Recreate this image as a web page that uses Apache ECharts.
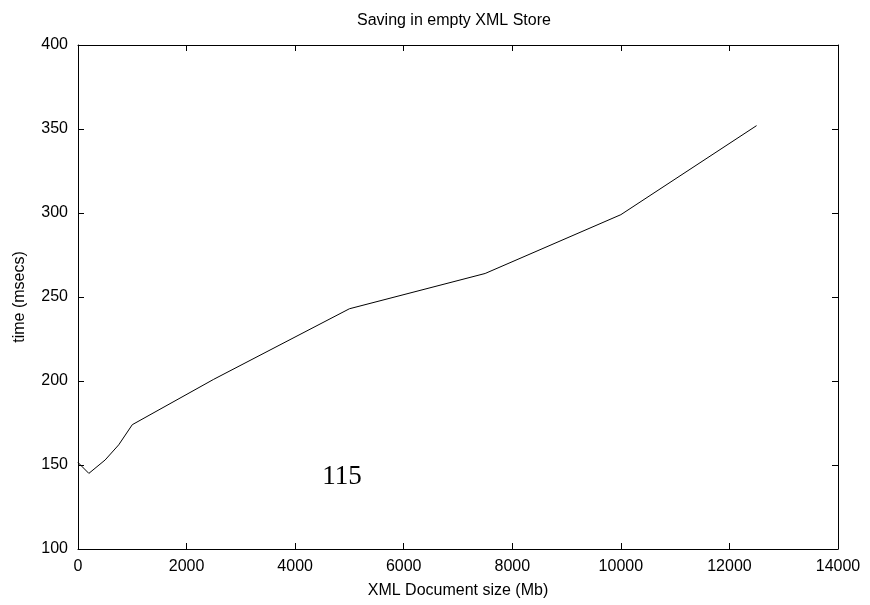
<!DOCTYPE html>
<html>
<head>
<meta charset="utf-8">
<script src="https://cdn.jsdelivr.net/npm/echarts@6/dist/echarts.min.js"></script>
<style>html,body{margin:0;padding:0;background:#fff}#c{width:870px;height:605px}</style>
</head>
<body>
<div id="c"></div>
<script>
const docSizes = [0, 200, 500, 750, 1000, 2500, 5000, 7500, 10000, 12500];
const times = [151.5, 145, 153, 162, 174, 201, 243, 264, 299, 352];
const titleText = 'Saving in empty XML Store';
const xName = 'XML Document size (Mb)';
const yName = 'time (msecs)';
const annotation = '115';

const chart = echarts.init(document.getElementById('c'), null, {renderer: 'canvas'});
const font = 'Liberation Sans, Arial, sans-serif';
const fs = 16;
const lineStyle = {color: '#000', width: 1};
const tick = {show: true, inside: true, length: 6, lineStyle: {color: '#000', width: 1}};
chart.setOption({
  animation: false,
  backgroundColor: '#fff',
  title: {text: titleText, left: 352, top: 8,
    textStyle: {fontFamily: font, fontSize: fs, fontWeight: 'normal', color: '#000'}},
  grid: {left: 78, right: 32, top: 45, bottom: 56, containLabel: false},
  xAxis: [
    {type: 'value', min: 0, max: 14000, interval: 2000, position: 'bottom',
     name: xName, nameLocation: 'middle', nameGap: 34,
     nameTextStyle: {fontFamily: font, fontSize: fs, color: '#000'},
     axisLine: {show: true, onZero: false, lineStyle: lineStyle}, axisTick: tick,
     axisLabel: {fontFamily: font, fontSize: fs, color: '#000', margin: 10,
       formatter: v => String(v)},
     splitLine: {show: false}},
    {type: 'value', min: 0, max: 14000, interval: 2000, position: 'top',
     axisLine: {show: true, onZero: false, lineStyle: lineStyle}, axisTick: tick,
     axisLabel: {show: false}, splitLine: {show: false}}
  ],
  yAxis: [
    {type: 'value', min: 100, max: 400, interval: 50, position: 'left',
     name: yName, nameLocation: 'middle', nameGap: 50, nameRotate: 90,
     nameTextStyle: {fontFamily: font, fontSize: fs, color: '#000'},
     axisLine: {show: true, onZero: false, lineStyle: lineStyle}, axisTick: tick,
     axisLabel: {fontFamily: font, fontSize: fs, color: '#000', margin: 10},
     splitLine: {show: false}},
    {type: 'value', min: 100, max: 400, interval: 50, position: 'right',
     axisLine: {show: true, onZero: false, lineStyle: lineStyle}, axisTick: tick,
     axisLabel: {show: false}, splitLine: {show: false}}
  ],
  series: [{
    type: 'line', xAxisIndex: 0, yAxisIndex: 0,
    data: docSizes.map((x, i) => [x, times[i]]),
    showSymbol: false, symbol: 'none',
    lineStyle: {color: '#000', width: 1}
  }],
  graphic: [{
    type: 'text', x: 342, y: 477,
    style: {text: annotation, font: '27px "Liberation Serif", "DejaVu Serif", serif', fill: '#000',
      textAlign: 'center', textVerticalAlign: 'middle'}
  }]
});
</script>
</body>
</html>
